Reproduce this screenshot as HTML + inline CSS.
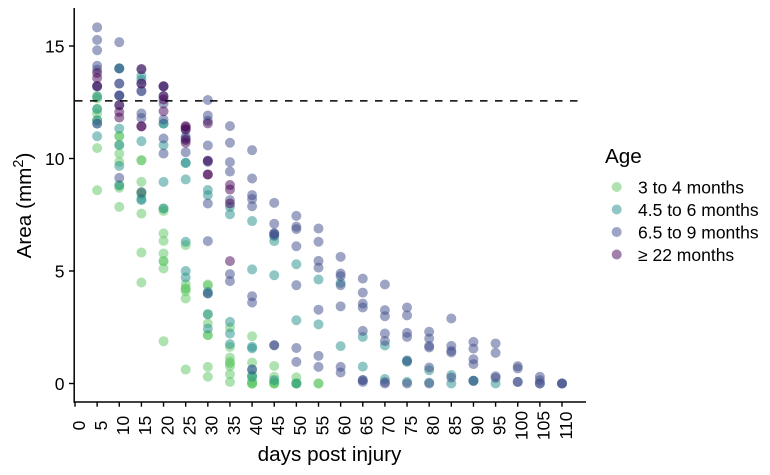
<!DOCTYPE html>
<html>
<head>
<meta charset="utf-8">
<title>Area vs days post injury</title>
<style>
html,body{margin:0;padding:0;background:#fff}
svg{display:block}
text{font-family:"Liberation Sans",Arial,sans-serif;fill:#000}
</style>
</head>
<body>
<svg id="chart" xmlns="http://www.w3.org/2000/svg" width="770" height="475" viewBox="0 0 770 475">
  <g id="points"></g>
  <line id="refline" stroke="#000" stroke-width="1.5" stroke-dasharray="7.5 7.5"></line>
  <line x1="74.2" y1="8" x2="74.2" y2="402.7" stroke="#000" stroke-width="1.5"></line>
  <line x1="73.5" y1="402" x2="586" y2="402" stroke="#000" stroke-width="1.5"></line>
  <g id="xticks"></g>
  <g id="yticks"></g>
  <text x="329.5" y="461" font-size="20.7" text-anchor="middle">days post injury</text>
  <text transform="translate(31 205.5) rotate(-90)" font-size="20.7" text-anchor="middle">Area (mm<tspan font-size="14.5" dy="-8">2</tspan><tspan dy="8">)</tspan></text>
  <g>
    <text x="605" y="163" font-size="20.7">Age</text>
    <g id="legend-items"></g>
  </g>
</svg>
<script>
const days = [5,10,15,20,25,30,35,40,45,50,55,60,65,70,75,80,85,90,95,100,105,110];
const xTickLabels = [0,5,10,15,20,25,30,35,40,45,50,55,60,65,70,75,80,85,90,95,100,105,110];
const yTickLabels = [0,5,10,15];
const thresholdArea = 12.56;
const ageLabels = ["3 to 4 months","4.5 to 6 months","6.5 to 9 months","\u2265 22 months"];
const area3to4 = [
  [12.77,12.66,12.2,12.0,11.7,10.46,8.59],
  [11.0,10.99,10.6,10.22,9.85,8.81,8.7,7.85],
  [9.92,9.92,8.96,8.5,8.47,8.4,7.55,5.82,4.49],
  [7.78,7.67,6.67,6.34,5.78,5.44,5.44,5.11,1.88],
  [6.15,4.41,4.22,4.22,4.1,3.78,0.62],
  [4.4,4.35,3.08,2.67,2.15,2.15,0.74,0.3],
  [2.49,1.63,1.15,0.96,0.9,0.77,0.41,0.07],
  [2.1,0.93,0.37,0.3,0.1,0.0,0.0,0.0],
  [0.78,0.3,0.1,0.0,0.0,0.0],
  [0.27,0.0,0.0,0.0],
  [0.0,0.0],
  [],[],[],[],[],[],[],[],[],[],[]
];
const area4to6 = [
  [12.75,12.2,11.7,11.55,10.99],
  [14.01,14.0,11.33,10.6,9.67,8.81],
  [13.67,13.5,10.77,8.2,8.15],
  [11.55,11.55,10.59,8.96,7.78],
  [9.81,9.8,9.07,6.3,5.0,4.71],
  [8.6,8.37,4.07,4.0,3.08,2.44],
  [7.85,7.52,2.74,2.22,1.75],
  [7.22,5.07,1.63,1.56,0.62,0.3],
  [6.55,6.33,4.81,0.15],
  [5.3,2.81,0.0],
  [4.62,2.63],
  [4.47,1.66],
  [2.07,0.75],
  [1.69,0.2],
  [1.03,0.96,0.07],
  [0.59,0.04],
  [0.37,0.0],
  [0.12,0.12],
  [0.0],
  [],[],[]
];
const area6to9 = [
  [15.83,15.27,14.81,14.12,13.95,13.21,13.2,11.55],
  [15.17,14.0,13.33,13.33,12.8,12.8,12.8,12.37,9.14],
  [13.97,13.33,13.0,12.99,12.0,11.8,8.5],
  [13.21,13.2,12.77,12.44,11.73,10.89,10.22],
  [11.29,10.97,10.89,10.28],
  [12.6,11.91,11.68,10.58,9.9,9.85,8.0,6.33,4.0],
  [11.44,10.7,9.84,9.42,8.15,4.86,4.55],
  [10.37,9.11,8.37,8.2,7.88,3.88,3.6,0.62],
  [8.03,7.1,6.67,6.67,6.6,1.7,1.7],
  [7.45,6.97,6.86,6.1,4.37,1.58,0.96],
  [6.89,6.3,5.45,5.15,3.28,1.23,0.74],
  [5.63,4.89,4.77,4.37,3.43,0.74,0.49],
  [4.66,4.04,3.55,3.38,2.34,0.15,0.15,0.07],
  [4.4,3.26,2.99,2.22,1.89,0.06,0.0],
  [3.38,3.03,2.25,2.07,1.0,0.0],
  [2.3,2.0,1.67,1.6,0.71,0.0],
  [2.89,1.67,1.45,1.38,0.26],
  [1.85,1.55,1.08,0.86,0.12],
  [1.78,1.36,0.32,0.25],
  [0.77,0.67,0.07,0.07],
  [0.3,0.15,0.0,0.0],
  [0.0,0.0,0.0]
];
const area22plus = [
  [13.8,13.58,13.22],
  [12.37,12.07,11.82],
  [13.97,13.33,11.43,11.43],
  [13.21,12.77,12.62,12.1],
  [11.44,11.4,11.29,10.82,10.7],
  [11.56,9.9,9.29,9.29],
  [8.82,8.62,8.0,5.44],
  [],[],[],[],[],[],[],[],[],[],[],[],[],[],[]
];
const ageSeries = [area3to4, area4to6, area6to9, area22plus];
const ageColors = ["#5DC863","#21908C","#3E4C8A","#440154"];
const seriesNames = ["age-3-to-4","age-4-5-to-6","age-6-5-to-9","age-22-plus"];

const NS = "http://www.w3.org/2000/svg";
function xScale(d){ return 75 + d * 4.4273; }
function yScale(v){ return 383.5 - v * 22.5; }
function make(tag, parent, attrs){
  const el = document.createElementNS(NS, tag);
  for (const k in attrs) el.setAttribute(k, attrs[k]);
  parent.appendChild(el);
  return el;
}

const pointsLayer = document.getElementById("points");
ageSeries.forEach(function(series, s){
  series.forEach(function(vals, i){
    vals.forEach(function(v){
      const c = make("circle", pointsLayer, {cx: xScale(days[i]), cy: yScale(v), r: 5, fill: ageColors[s], "fill-opacity": 0.5});
      
      
    });
  });
});

const ref = document.getElementById("refline");
ref.setAttribute("x1", 75);
ref.setAttribute("x2", 585);
ref.setAttribute("y1", yScale(thresholdArea));
ref.setAttribute("y2", yScale(thresholdArea));

const xt = document.getElementById("xticks");
xTickLabels.forEach(function(t){
  const x = xScale(t);
  const tick = make("line", xt, {x1: x, x2: x, y1: 402, y2: 406.7, stroke: "#000", "stroke-width": 1.4});
  
  
  const label = make("text", xt, {transform: "translate(" + (x + 9.8) + " 425.5) rotate(-90)", "font-size": 17.5, "text-anchor": "middle"});
  
  
  label.textContent = t;
});

const yt = document.getElementById("yticks");
yTickLabels.forEach(function(t){
  const y = yScale(t);
  const tick = make("line", yt, {x1: 69, x2: 74, y1: y, y2: y, stroke: "#000", "stroke-width": 1.4});
  
  
  const label = make("text", yt, {x: 64.5, y: y + 6.4, "font-size": 17.5, "text-anchor": "end"});
  
  
  label.textContent = t;
});

const li = document.getElementById("legend-items");
ageLabels.forEach(function(name, i){
  const cy = 187 + i * 22.5;
  const dot = make("circle", li, {cx: 616.7, cy: cy, r: 5, fill: ageColors[i], "fill-opacity": 0.5});
  
  
  const label = make("text", li, {x: 638, y: cy + 6.3, "font-size": 17.5});
  
  
  label.textContent = name;
});
</script>
</body>
</html>
